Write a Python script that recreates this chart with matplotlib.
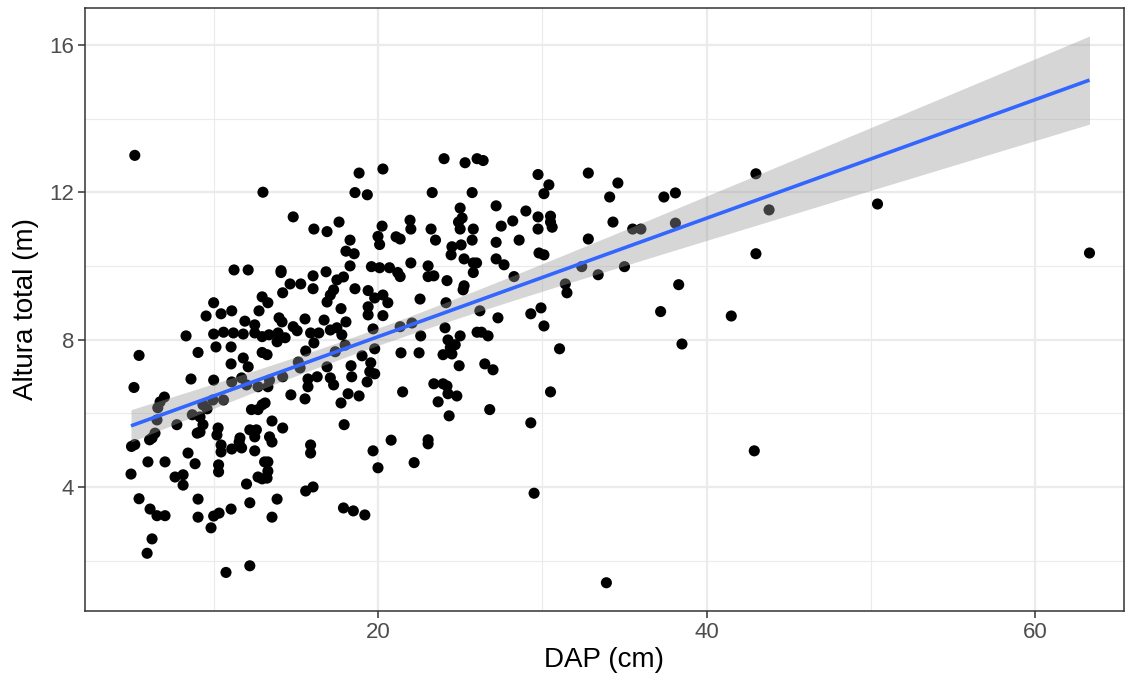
import numpy as np
import matplotlib
matplotlib.use("Agg")
import matplotlib.pyplot as plt

# DAP (cm) and Altura total (m)
dap = [
    5.2, 5.15, 5.46, 5.2, 5.0, 4.97, 5.46, 5.95, 6.25, 6.13, 6.55, 7.04, 6.0, 7.04, 6.1,
    6.43, 6.25, 6.55, 7.0, 6.74, 6.6, 7.76, 8.7, 9.17, 9.35, 9.17, 9.0, 10.27, 10.2,
    12.2, 12.6, 12.5, 11.6, 8.44, 8.87, 7.65, 8.14, 8.14, 10.45, 10.45, 11.1, 11.7, 11.55,
    12.5, 10.3, 10.3, 13.1, 12.7, 12.95, 12.0, 9.05, 9.05, 10.0, 10.33, 11.06, 12.2, 9.84,
    10.75, 12.2, 12.95, 10.0, 9.54, 10.45, 11.1, 12.76, 11.9, 12.5, 12.5, 8.32, 10.0, 10.6,
    11.2, 11.8, 12.95, 9.05, 10.14, 11.06, 12.95, 11.8, 12.1, 11.06, 8.62, 10.0, 11.1, 11.7,
    12.0, 12.7, 9.95, 10.6, 9.35, 9.6, 12.3, 12.95, 12.7, 13.0, 11.24, 12.1,
    # 13-22
    14.84, 17.63, 16.1, 16.9, 18.85, 20.3, 18.6, 19.35, 20.25, 21.95, 22.0, 20.0, 20.1,
    21.1, 21.35, 18.3, 18.05, 18.55, 18.3, 19.6, 20.1, 20.7, 21.2, 21.35, 22.0, 14.1, 14.1,
    14.65, 15.3, 16.05, 16.84, 17.5, 17.9, 18.6, 19.4, 16.05, 14.2, 17.1, 17.3, 16.9, 13.3,
    19.8, 20.3, 20.6, 17.75, 19.4, 19.4, 20.3, 13.98, 14.16, 15.56, 16.72, 18.05, 14.84,
    15.08, 15.9, 16.4, 17.1, 17.5, 17.8, 13.37, 13.92, 14.35, 13.86, 19.7, 21.35, 22.07,
    16.1, 15.6, 18.0, 17.4, 19.8, 19.03, 21.4, 15.15, 15.26, 13.25, 14.2, 13.4, 13.3, 16.9,
    18.36, 19.56, 19.5, 19.8, 15.74, 16.3, 15.74, 17.1, 17.3, 18.4, 19.34, 14.7, 15.56,
    18.18, 17.75, 18.85, 21.5, 13.13, 13.55, 14.2, 17.94, 20.8, 13.4, 13.55, 15.9, 15.9,
    19.7, 20.0, 22.2, 23.05, 13.3, 13.3, 13.25, 15.6, 16.05, 13.86, 13.55, 17.9, 18.5,
    19.2, 29.5,
    # 22-31
    24.02, 25.3, 26.03, 26.4, 29.74, 30.4, 30.1, 23.3, 25.73, 27.19, 25.0, 29.0, 28.2,
    29.74, 30.5, 30.5, 30.6, 25.12, 24.9, 27.5, 23.23, 25.0, 25.8, 29.74, 23.5, 25.73,
    27.19, 28.59, 24.5, 24.45, 25.06, 25.24, 25.8, 26.0, 25.8, 27.19, 27.67, 29.8, 30.1,
    23.05, 23.05, 23.4, 24.2, 25.24, 28.28, 31.4, 31.5, 22.56, 24.14, 25.18, 26.2, 27.3,
    29.3, 29.92, 30.1, 24.08, 22.6, 25.0, 26.03, 26.3, 26.7, 24.26, 24.7, 24.4, 22.5,
    23.96, 24.5, 31.05, 24.94, 26.5, 27.0, 23.4, 23.96, 24.2, 24.26, 24.8, 23.66, 30.5,
    26.8, 24.33, 29.3, 23.05,
    # > 32
    32.8, 34.6, 34.1, 37.4, 38.1, 34.3, 35.5, 36.0, 38.1, 32.8, 32.4, 35.0, 33.4, 38.3,
    37.2, 38.5, 33.9, 41.5, 43.0, 43.8, 43.0, 42.9, 50.4, 63.3,
]
altura = [
    13.0, 6.7, 7.57, 5.15, 5.1, 4.35, 3.68, 2.2, 2.59, 3.4, 3.22, 3.22, 4.68, 4.68, 5.28,
    5.46, 5.33, 5.82, 6.44, 6.31, 6.15, 5.69, 5.96, 5.9, 5.69, 5.49, 5.46, 5.6, 5.41,
    5.55, 5.55, 5.36, 5.33, 4.92, 4.63, 4.27, 4.33, 4.05, 5.14, 4.95, 5.03, 5.06, 5.22,
    4.98, 4.6, 4.41, 4.68, 4.27, 4.22, 4.08, 3.67, 3.18, 3.21, 3.29, 3.4, 3.57, 2.89,
    1.68, 1.86, 9.16, 9.0, 8.64, 8.7, 8.78, 8.78, 8.5, 8.4, 8.18, 8.1, 8.15, 8.2,
    8.18, 8.15, 8.08, 7.65, 7.8, 7.8, 7.65, 7.5, 7.26, 7.34, 6.93, 6.9, 6.85, 6.96,
    6.77, 6.72, 6.36, 6.36, 6.23, 6.12, 6.1, 6.23, 6.1, 12.0, 9.89, 9.89,
    # 13-22
    11.33, 11.19, 11.0, 10.93, 12.52, 12.63, 11.99, 11.93, 11.08, 11.24, 11.0, 10.8, 10.58,
    10.79, 10.73, 10.7, 10.4, 10.33, 10.0, 9.98, 9.95, 9.95, 9.82, 9.71, 10.08, 9.87, 9.82,
    9.51, 9.51, 9.73, 9.84, 9.62, 9.7, 9.38, 9.33, 9.38, 9.27, 9.21, 9.35, 9.02, 9.0,
    9.13, 9.21, 9.0, 8.84, 8.89, 8.67, 8.65, 8.59, 8.48, 8.56, 8.53, 8.48, 8.35,
    8.24, 8.18, 8.18, 8.26, 8.32, 8.13, 8.13, 8.18, 8.05, 7.94, 8.29, 8.35, 8.45,
    7.91, 7.69, 7.85, 7.67, 7.75, 7.56, 7.64, 7.39, 7.23, 7.59, 6.99, 6.9, 6.72, 7.26,
    7.29, 7.37, 7.13, 7.07, 6.93, 6.99, 6.72, 6.96, 6.77, 6.99, 6.85, 6.5, 6.39,
    6.53, 6.28, 6.47, 6.58, 6.28, 5.79, 5.6, 5.69, 5.27, 5.36, 5.22, 5.14, 4.92,
    4.98, 4.52, 4.66, 5.17, 4.68, 4.43, 4.24, 3.89, 4.0, 3.67, 3.18, 3.43, 3.35,
    3.24, 3.83,
    # 22-31
    12.91, 12.8, 12.91, 12.86, 12.48, 12.2, 11.96, 11.99, 11.99, 11.63, 11.57, 11.49, 11.22,
    11.33, 11.35, 11.19, 11.05, 11.3, 11.19, 11.08, 11.0, 11.0, 11.0, 11.0, 10.7, 10.7,
    10.64, 10.7, 10.52, 10.3, 10.57, 10.19, 10.08, 10.08, 9.82, 10.19, 10.03, 10.35, 10.3,
    10.0, 9.71, 9.73, 9.6, 9.46, 9.71, 9.51, 9.27, 9.1, 9.0, 9.35, 8.78, 8.59,
    8.7, 8.86, 8.37, 8.32, 8.1, 8.1, 8.2, 8.2, 8.1, 7.99, 7.86, 7.78, 7.64,
    7.59, 7.61, 7.75, 7.29, 7.34, 7.18, 6.8, 6.8, 6.74, 6.53, 6.47, 6.31, 6.58,
    6.1, 5.93, 5.74, 5.28,
    # > 32
    12.52, 12.25, 11.87, 11.87, 11.98, 11.19, 11.0, 11.0, 11.16, 10.73, 9.98, 9.98, 9.76, 9.49,
    8.76, 7.88, 1.40, 8.64, 12.5, 11.52, 10.33, 4.98, 11.68, 10.35,
]

x_major = [20, 40, 60]
x_minor = [10, 30, 50]
y_major = [4, 8, 12, 16]
y_minor = [2, 6, 10, 14]

x = np.array(dap, dtype=float)
y = np.array(altura, dtype=float)
n = min(len(x), len(y))
x, y = x[:n], y[:n]

# linear fit with 95% confidence band (like geom_smooth(method = "lm"))
b1, b0 = np.polyfit(x, y, 1)
xs = np.linspace(x.min(), x.max(), 200)
ys = b0 + b1 * xs
resid = y - (b0 + b1 * x)
s = np.sqrt(np.sum(resid ** 2) / (n - 2))
sxx = np.sum((x - x.mean()) ** 2)
se = s * np.sqrt(1.0 / n + (xs - x.mean()) ** 2 / sxx)
tval = 1.967
lo, hi = ys - tval * se, ys + tval * se

plt.rcParams['font.family'] = ['Liberation Sans', 'DejaVu Sans']
fig = plt.figure(figsize=(11.28, 6.81), dpi=100)
ax = fig.add_axes([85 / 1128, 1 - 611 / 681, (1124 - 85) / 1128, (611 - 8) / 681])

ax.set_xlim(2.17, 65.4)
ax.set_ylim(0.633, 17.0)

ax.set_xticks(x_major)
ax.set_xticks(x_minor, minor=True)
ax.set_yticks(y_major)
ax.set_yticks(y_minor, minor=True)
ax.grid(True, which='major', color='#EBEBEB', linewidth=1.6, zorder=0)
ax.grid(True, which='minor', color='#EBEBEB', linewidth=0.8, zorder=0)
ax.set_axisbelow(True)

ax.scatter(x, y, s=64, color='black', edgecolors='none', zorder=2)
ax.fill_between(xs, lo, hi, color='#999999', alpha=0.4, linewidth=0, zorder=3)
ax.plot(xs, ys, color='#3366FF', linewidth=2.6, zorder=4, solid_capstyle='butt')

for sp in ax.spines.values():
    sp.set_color('#333333')
    sp.set_linewidth(1.1)

ax.tick_params(axis='both', which='major', length=5, width=1.1, color='#333333',
               labelsize=16, labelcolor='#4D4D4D', pad=3)
ax.tick_params(axis='both', which='minor', length=0)

ax.set_xlabel('DAP (cm)', fontsize=20, color='black', labelpad=3)
ax.set_ylabel('Altura total (m)', fontsize=20, color='black', labelpad=7)

fig.savefig('out.png', dpi=100)
